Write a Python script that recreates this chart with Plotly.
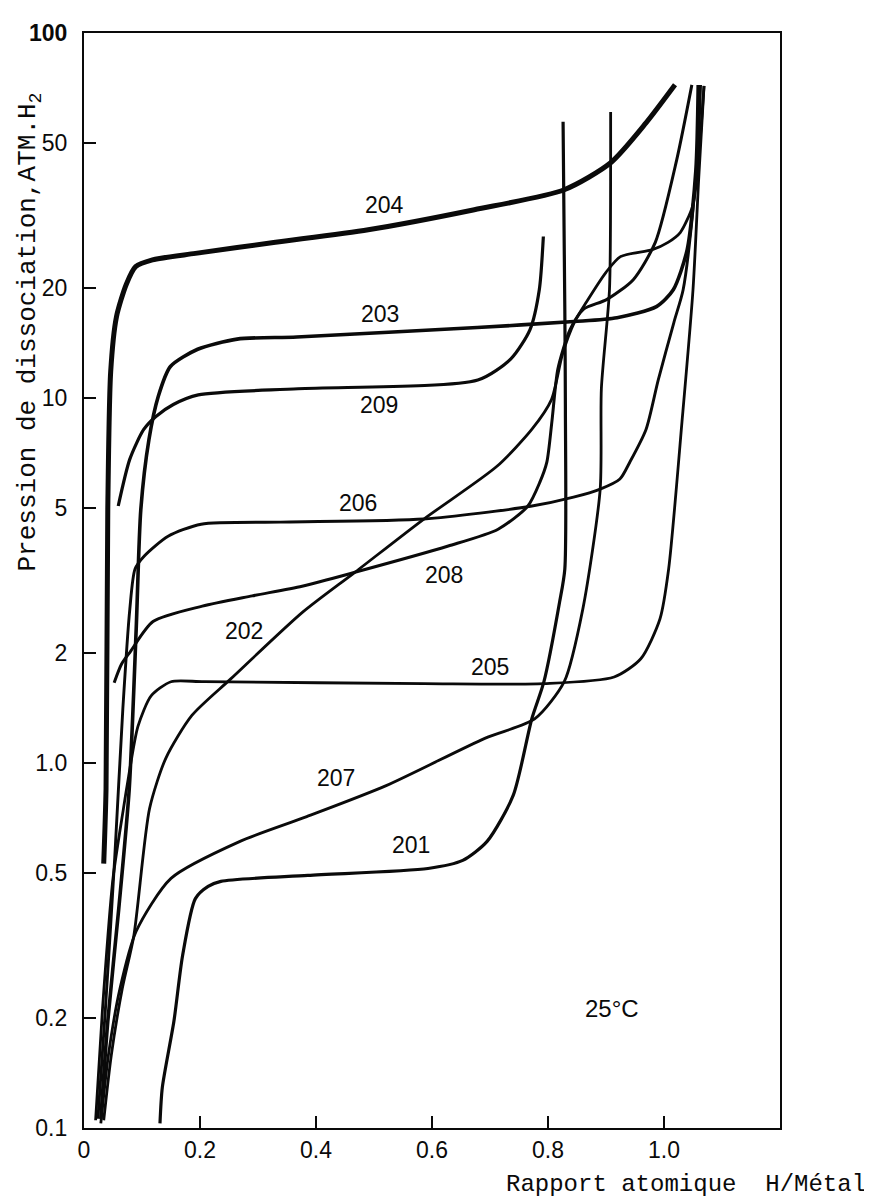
import math
import plotly.graph_objects as go

# ---- data (H/M ratio, pressure atm) ----
x_201 = [0.131, 0.135, 0.155, 0.170, 0.192, 0.214, 0.236, 0.386, 0.593, 0.653, 0.695, 0.740, 0.772, 0.793, 0.820, 0.829, 0.830, 0.829, 0.826]
p_201 = [0.103, 0.129, 0.196, 0.297, 0.425, 0.459, 0.474, 0.492, 0.514, 0.541, 0.61, 0.815, 1.32, 1.67, 2.76, 3.40, 9.3, 17.5, 57.1]

x_202 = [0.034, 0.047, 0.066, 0.086, 0.113, 0.141, 0.186, 0.253, 0.377, 0.467, 0.586, 0.712, 0.772, 0.806, 0.825, 0.846, 0.866, 0.900, 0.925, 0.980, 1.007, 1.028, 1.049, 1.057, 1.069]
p_202 = [0.105, 0.158, 0.241, 0.337, 0.75, 1.03, 1.35, 1.70, 2.59, 3.33, 4.66, 6.5, 8.2, 9.9, 13.2, 16.2, 18.3, 22.1, 24.4, 25.5, 26.7, 28.4, 33.4, 40.4, 71.6]

x_203 = [0.029, 0.041, 0.060, 0.078, 0.090, 0.098, 0.112, 0.128, 0.149, 0.196, 0.264, 0.367, 0.678, 0.845, 0.919, 0.987, 1.016, 1.040, 1.055, 1.059]
p_203 = [0.106, 0.196, 0.40, 0.85, 2.33, 4.96, 7.7, 10.1, 12.2, 13.6, 14.5, 14.7, 15.6, 16.2, 16.6, 17.8, 19.8, 25.5, 42.2, 72.0]

x_204 = [0.034, 0.038, 0.041, 0.046, 0.056, 0.073, 0.089, 0.118, 0.192, 0.330, 0.490, 0.673, 0.828, 0.908, 0.969, 1.019]
p_204 = [0.53, 0.85, 4.96, 11.8, 16.7, 20.5, 22.9, 23.9, 24.9, 26.7, 28.9, 32.8, 37.2, 44.1, 56.7, 72.1]

x_205 = [0.020, 0.032, 0.050, 0.068, 0.077, 0.093, 0.116, 0.150, 0.207, 0.586, 0.793, 0.914, 0.960, 0.993, 1.008, 1.031, 1.050, 1.060, 1.069]
p_205 = [0.105, 0.213, 0.483, 0.75, 0.92, 1.26, 1.53, 1.67, 1.67, 1.65, 1.65, 1.72, 1.93, 2.48, 3.40, 8.6, 19.8, 40.4, 71.6]

x_206 = [0.024, 0.037, 0.053, 0.067, 0.079, 0.088, 0.104, 0.145, 0.202, 0.339, 0.586, 0.770, 0.844, 0.890, 0.924, 0.941, 0.969, 0.990, 1.017, 1.033, 1.050, 1.060, 1.063]
p_206 = [0.106, 0.213, 0.55, 1.41, 2.64, 3.4, 3.69, 4.18, 4.51, 4.57, 4.66, 5.05, 5.35, 5.63, 6.0, 6.67, 8.2, 11.2, 16.1, 19.8, 32.8, 54.0, 72.0]

x_207 = [0.029, 0.042, 0.062, 0.090, 0.150, 0.269, 0.384, 0.521, 0.692, 0.777, 0.828, 0.860, 0.890, 0.892, 0.906, 0.908, 0.908]
p_207 = [0.103, 0.158, 0.241, 0.346, 0.483, 0.610, 0.713, 0.867, 1.17, 1.32, 1.67, 2.64, 5.63, 10.6, 19.8, 44.1, 60.8]

x_208 = [0.052, 0.065, 0.080, 0.119, 0.204, 0.290, 0.376, 0.467, 0.628, 0.714, 0.765, 0.786, 0.798, 0.807, 0.817, 0.838, 0.861, 0.901, 0.947, 0.985, 1.022, 1.048]
p_208 = [1.66, 1.87, 2.02, 2.44, 2.69, 2.87, 3.05, 3.33, 3.93, 4.37, 5.05, 5.88, 6.67, 8.7, 12.0, 15.4, 17.5, 18.6, 21.1, 26.7, 45.0, 72.1]

x_209 = [0.059, 0.079, 0.103, 0.124, 0.154, 0.197, 0.369, 0.679, 0.736, 0.769, 0.785, 0.792]
p_209 = [5.06, 6.8, 8.2, 8.9, 9.6, 10.2, 10.6, 11.2, 12.8, 15.4, 19.8, 27.7]

curve_names = ["201", "202", "203", "204", "205", "206", "207", "208", "209"]

x_tick_vals = [0, 0.2, 0.4, 0.6, 0.8, 1.0]
x_tick_text = ["0", "0.2", "0.4", "0.6", "0.8", "1.0"]
y_tick_vals = [0.1, 0.2, 0.5, 1, 2, 5, 10, 20, 50, 100]
y_tick_text = ["0.1", "0.2", "0.5", "1.0", "2", "5", "10", "20", "50", "<b>100</b>"]

# label anchor positions (data coords)
label_x = [0.564, 0.276, 0.510, 0.518, 0.700, 0.473, 0.434, 0.621, 0.508]
label_p = [0.598, 2.30, 17.0, 33.7, 1.83, 5.15, 0.912, 3.27, 9.55]

series = {
    "201": (x_201, p_201), "202": (x_202, p_202), "203": (x_203, p_203),
    "204": (x_204, p_204), "205": (x_205, p_205), "206": (x_206, p_206),
    "207": (x_207, p_207), "208": (x_208, p_208), "209": (x_209, p_209),
}
widths = {"201": 3.2, "202": 2.8, "203": 3.6, "204": 5.0, "205": 2.8,
          "206": 2.9, "207": 2.8, "208": 3.0, "209": 3.2}

fig = go.Figure()
for name in curve_names:
    xs, ps = series[name]
    fig.add_trace(go.Scatter(x=xs, y=ps, mode="lines", name=name,
                             line=dict(color="#0a0a0a", width=widths[name],
                                       shape="spline", smoothing=0.7)))

lab_font = dict(family="Liberation Sans, Arial, sans-serif", size=23, color="#0a0a0a")
for name, lx, lp in zip(curve_names, label_x, label_p):
    fig.add_annotation(x=lx, y=math.log10(lp), yref="y", xref="x", text=name, showarrow=False,
                       font=lab_font, xanchor="center", yanchor="middle")
fig.add_annotation(x=0.911, y=math.log10(0.213), text="25°C", showarrow=False,
                   font=dict(family="Liberation Sans, Arial, sans-serif", size=24, color="#0a0a0a"))

mono = dict(family="Liberation Mono, Courier New, monospace", size=26, color="#0a0a0a")
fig.add_annotation(xref="paper", yref="paper", x=-0.0776, y=0.7274,
                   text="Pression de dissociation,ATM.H<sub>2</sub>", textangle=-90,
                   showarrow=False, font=mono, xanchor="center", yanchor="middle")
fig.add_annotation(xref="paper", yref="paper", x=1.125, y=-0.0520,
                   text="Rapport atomique  H/Métal", showarrow=False,
                   font=dict(family="Liberation Mono, Courier New, monospace", size=24, color="#0a0a0a"),
                   xanchor="right", yanchor="middle", borderpad=0)

tick_font = dict(family="Liberation Sans, Arial, sans-serif", size=23, color="#0a0a0a")
fig.update_xaxes(range=[0, 1.2], tickvals=x_tick_vals, ticktext=x_tick_text,
                 ticks="inside", ticklen=12, tickwidth=2, tickcolor="#0a0a0a",
                 showline=True, linewidth=2.2, linecolor="#0a0a0a", mirror=True,
                 showgrid=False, zeroline=False, tickfont=tick_font, ticklabelstandoff=0)
fig.update_yaxes(type="log", range=[-1, 2], tickvals=y_tick_vals, ticktext=y_tick_text,
                 ticks="inside", ticklen=12, tickwidth=2, tickcolor="#0a0a0a",
                 showline=True, linewidth=2.2, linecolor="#0a0a0a", mirror=True,
                 showgrid=False, zeroline=False, tickfont=tick_font, ticklabelstandoff=10)
fig.update_layout(width=872, height=1201, margin=dict(l=76, r=100, t=23, b=81),
                  plot_bgcolor="white", paper_bgcolor="white", showlegend=False)

fig.write_html("out.html")
